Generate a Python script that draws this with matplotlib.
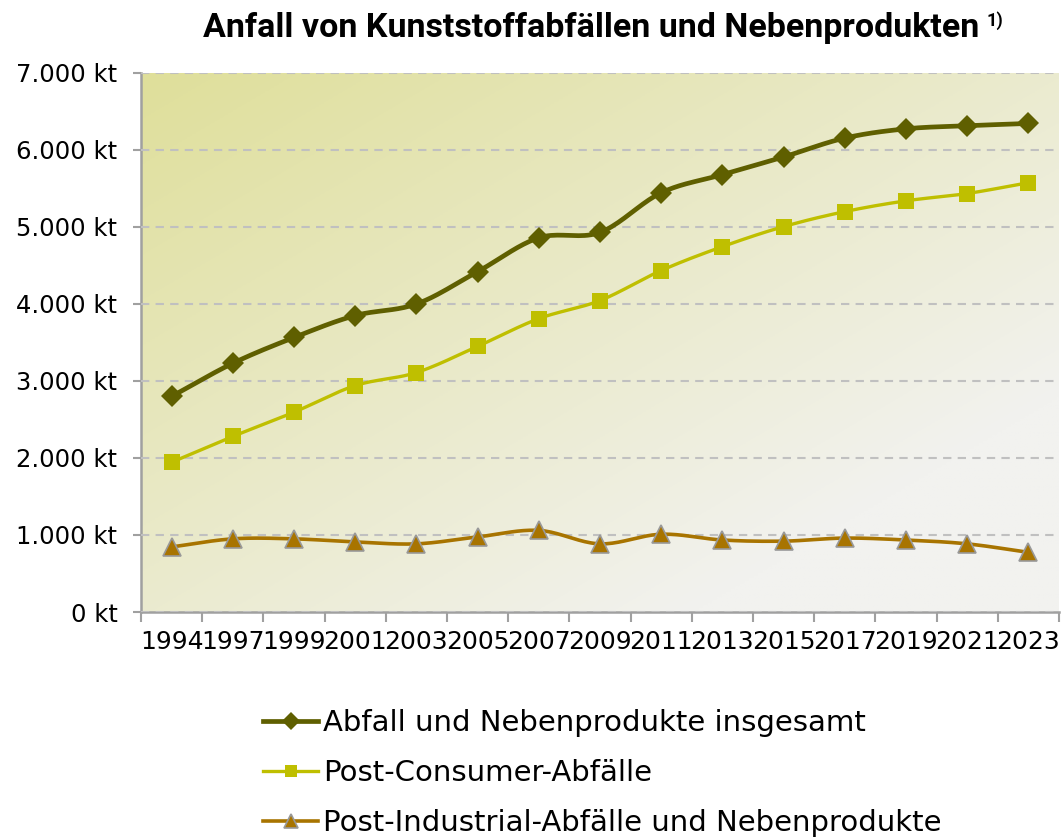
import numpy as np
import matplotlib
matplotlib.use("Agg")
import matplotlib.pyplot as plt
from matplotlib.ticker import FuncFormatter, FixedLocator
from matplotlib.colors import to_rgb
from matplotlib.lines import Line2D

years = ["1994", "1997", "1999", "2001", "2003", "2005", "2007", "2009",
         "2011", "2013", "2015", "2017", "2019", "2021", "2023"]
total = [2800, 3230, 3565, 3850, 4000, 4420, 4860, 4930, 5445, 5680, 5910,
         6155, 6275, 6315, 6345]
post_consumer = [1945, 2280, 2595, 2940, 3110, 3450, 3810, 4045, 4435, 4745,
                 5005, 5200, 5340, 5435, 5575]
post_industrial = [845, 950, 950, 910, 885, 975, 1060, 885, 1010, 935, 920,
                   960, 935, 885, 775]
labels = ["Abfall und Nebenprodukte insgesamt", "Post-Consumer-Abfälle",
          "Post-Industrial-Abfälle und Nebenprodukte"]
title = "Anfall von Kunststoffabfällen und Nebenprodukten"

W, H = 1063, 840
fig = plt.figure(figsize=(W / 100, H / 100), dpi=100)
plt.rcParams['font.family'] = ['DejaVu Sans']

L, R, T, B = 141, 1059, 73, 612
ax = fig.add_axes([L / W, 1 - B / H, (R - L) / W, (B - T) / H])

# gradient background (top-left yellowish -> bottom-right light grey)
c0 = np.array(to_rgb("#dfdf9a"))
c1 = np.array(to_rgb("#f2f2ef"))
n = 200
xx, yy = np.meshgrid(np.linspace(0, 1, n), np.linspace(0, 1, n))
t = (xx + yy) / 2.0
t = np.clip(t / 0.8, 0, 1)
img = c0[None, None, :] * (1 - t[..., None]) + c1[None, None, :] * t[..., None]
ax.imshow(img, extent=[0, 1, 0, 1], transform=ax.transAxes, aspect='auto',
          zorder=0, origin='upper')

x = np.arange(len(years))


def smooth(xs, ys, k=20):
    xs = np.asarray(xs, float)
    ys = np.asarray(ys, float)
    px = np.concatenate([[2 * xs[0] - xs[1]], xs, [2 * xs[-1] - xs[-2]]])
    py = np.concatenate([[2 * ys[0] - ys[1]], ys, [2 * ys[-1] - ys[-2]]])
    ox, oy = [], []
    for i in range(1, len(px) - 2):
        tt = np.linspace(0, 1, k, endpoint=False)
        for P, out in ((px, ox), (py, oy)):
            p0, p1, p2, p3 = P[i - 1], P[i], P[i + 1], P[i + 2]
            out.extend(0.5 * ((2 * p1) + (-p0 + p2) * tt +
                              (2 * p0 - 5 * p1 + 4 * p2 - p3) * tt ** 2 +
                              (-p0 + 3 * p1 - 3 * p2 + p3) * tt ** 3))
    ox.append(xs[-1])
    oy.append(ys[-1])
    return np.array(ox), np.array(oy)


styles = [
    dict(data=total, color="#5f5f00", lw=3.4, marker="D", ms=11, mec="#5f5f00", mew=0),
    dict(data=post_consumer, color="#bfbf00", lw=2.4, marker="s", ms=11, mec="#bfbf00", mew=0),
    dict(data=post_industrial, color="#a87400", lw=2.6, marker="^", ms=12.5, mec="#999999", mew=1.2),
]
handles = []
for s, lab in zip(styles, labels):
    sx, sy = smooth(x, s["data"])
    ax.plot(sx, sy, color=s["color"], lw=s["lw"], zorder=3, solid_capstyle='round')
    ax.plot(x, s["data"], ls='none', marker=s["marker"], ms=s["ms"],
            mfc=s["color"], mec=s["mec"], mew=s["mew"], zorder=4)
    handles.append(Line2D([], [], color=s["color"], lw=s["lw"], marker=s["marker"],
                          ms=s["ms"] * 0.85, mfc=s["color"], mec=s["mec"], mew=s["mew"]))

ax.set_xlim(-0.5, len(years) - 0.5)
ax.set_ylim(0, 7000)
ax.set_yticks(np.arange(0, 7001, 1000))
ax.yaxis.set_major_formatter(FuncFormatter(
    lambda v, p: f"{int(v):,} kt".replace(",", ".")))
ax.set_xticks(x)
ax.set_xticklabels(years)
ax.xaxis.set_minor_locator(FixedLocator(np.arange(-0.5, len(years), 1.0)))
ax.tick_params(axis='x', which='major', length=0, pad=13, labelsize=18, colors='black')
ax.tick_params(axis='x', which='minor', length=7, width=1.5, color='#a0a0a0')
ax.tick_params(axis='y', length=6, width=1.5, color='#a0a0a0', labelsize=17.5, pad=11)

ax.grid(axis='y', color='#c0c0c0', lw=1.5, ls=(0, (4, 3)), zorder=1)
ax.set_axisbelow(False)
for sp in ['top', 'right']:
    ax.spines[sp].set_visible(False)
for sp in ['left', 'bottom']:
    ax.spines[sp].set_color('#a0a0a0')
    ax.spines[sp].set_linewidth(1.8)
    ax.spines[sp].set_zorder(2)
for gl in ax.get_ygridlines():
    gl.set_zorder(1.5)

# title
tt = fig.text(591 / W, 1 - 28 / H, title, ha='center', va='center',
              fontsize=24.5, fontweight='bold', family=['Roboto', 'DejaVu Sans'])
fig.canvas.draw()
bb = tt.get_window_extent()
fig.text(bb.x1 / W + 7 / W, bb.y1 / H + 1 / H, "1)", ha='left', va='top',
         fontsize=13, fontweight='bold', family=['Roboto', 'DejaVu Sans'])

leg = fig.legend(handles, labels, loc='upper left',
                 bbox_to_anchor=(263 / W, 1 - 709 / H), frameon=False,
                 fontsize=21, handlelength=1.9, handletextpad=0.17,
                 labelspacing=0.76, borderpad=0, borderaxespad=0, numpoints=1)

fig.savefig("out.png", dpi=100)
